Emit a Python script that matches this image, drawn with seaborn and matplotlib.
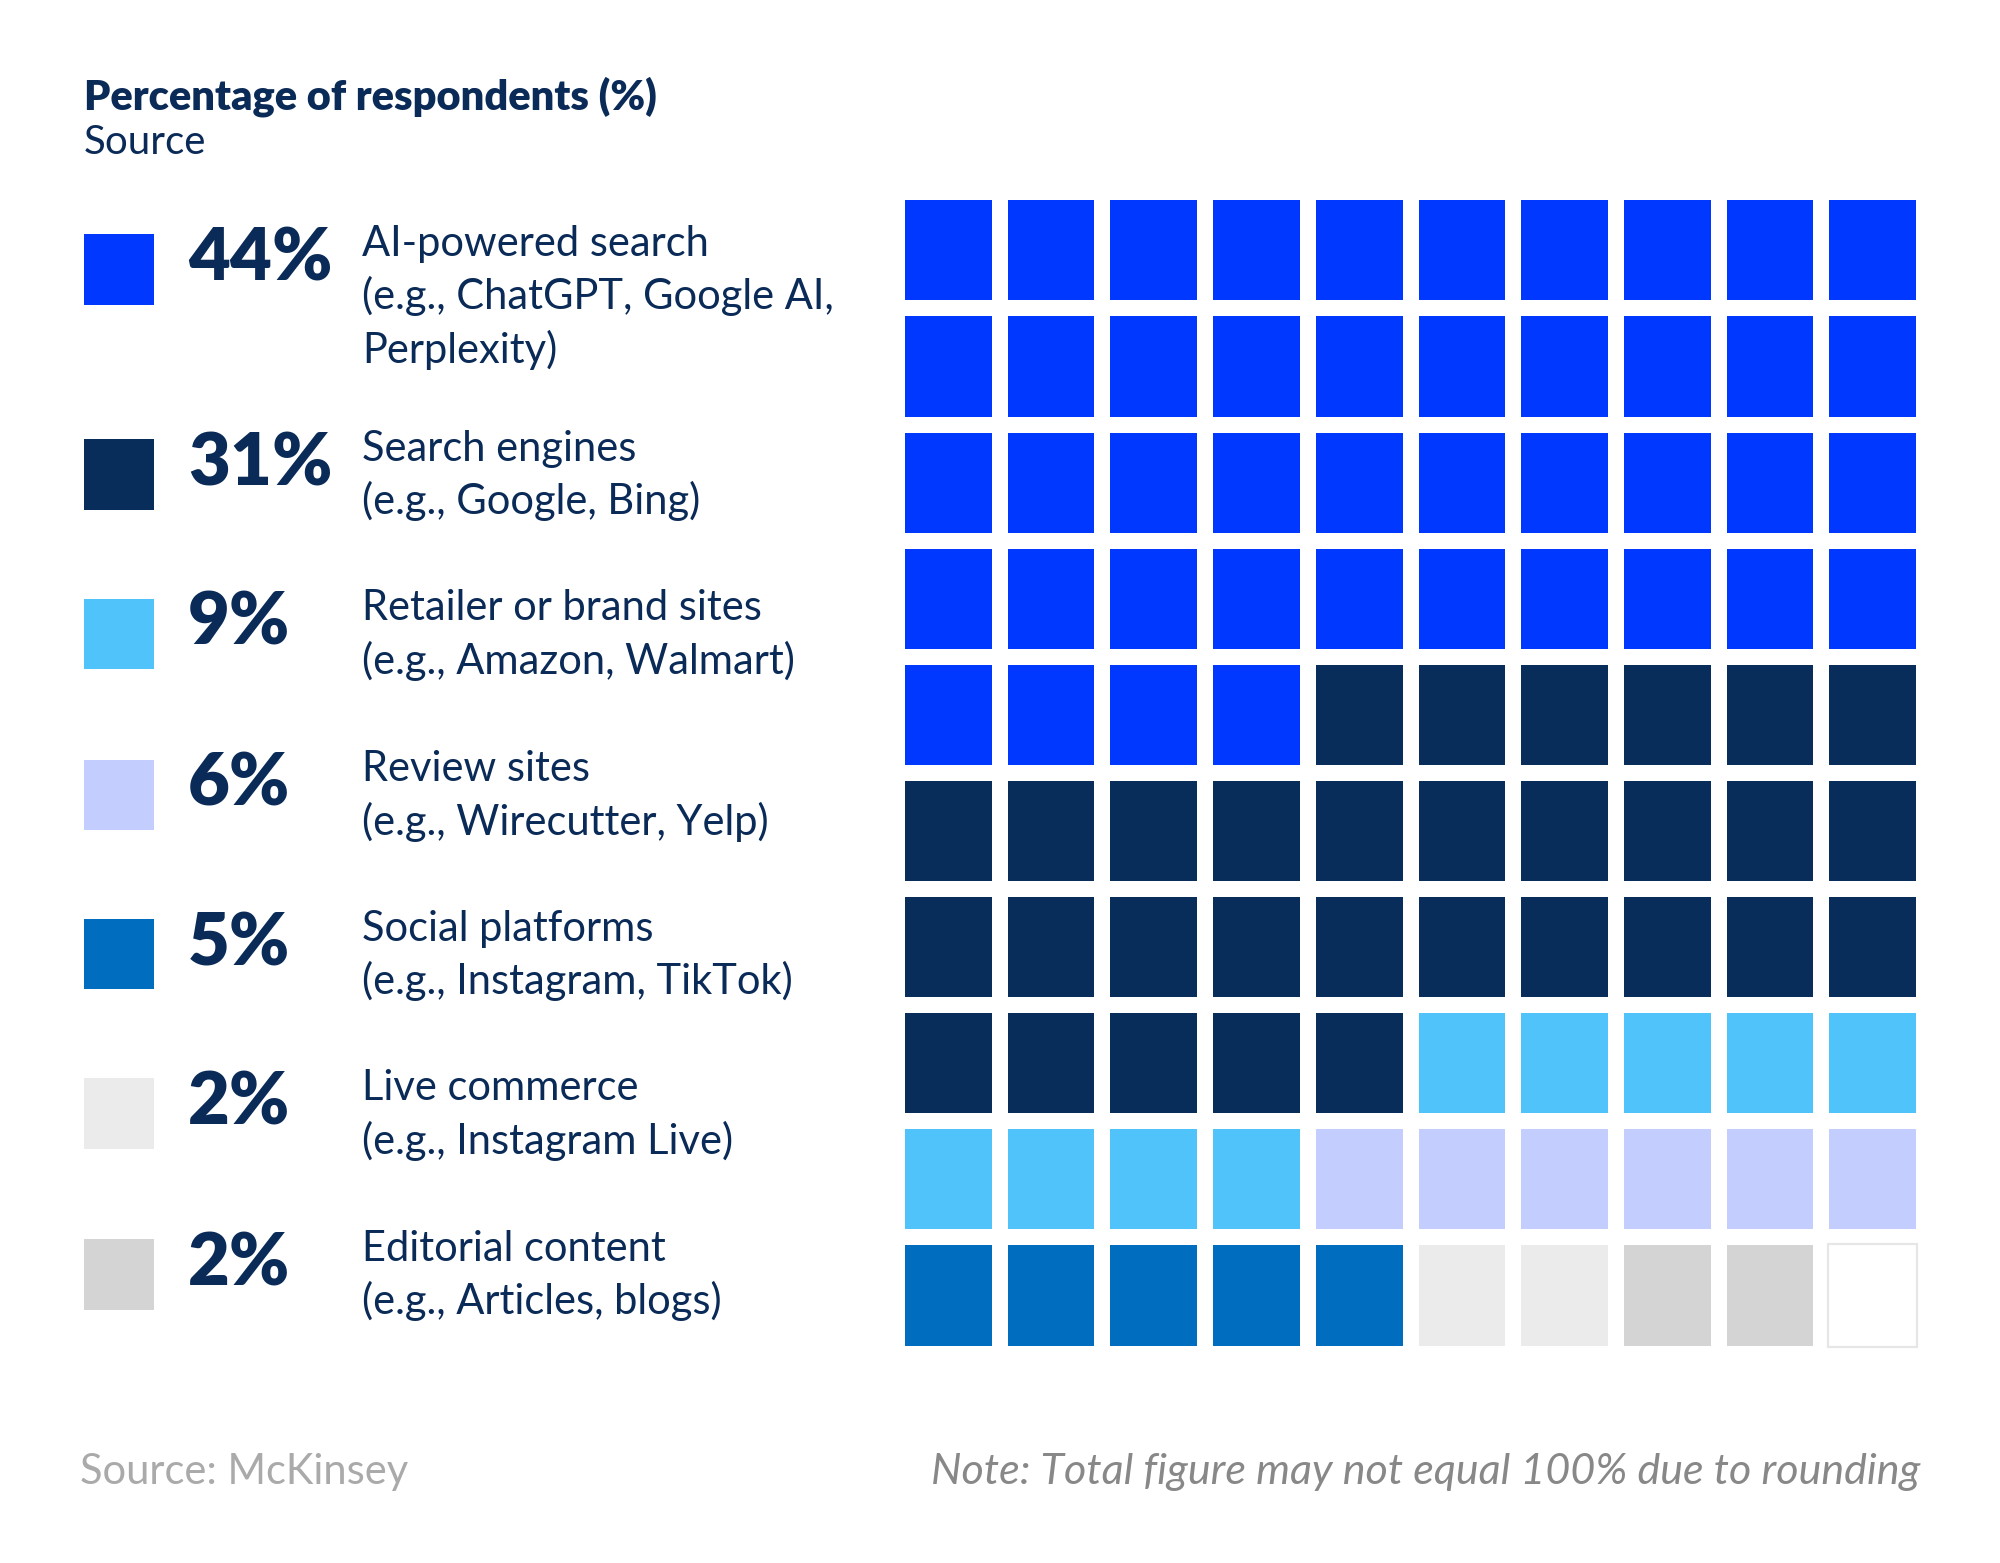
import numpy as np
import pandas as pd
import seaborn as sns
import matplotlib.pyplot as plt
from matplotlib.colors import ListedColormap
from matplotlib.patches import Rectangle

categories = ["AI-powered search", "Search engines", "Retailer or brand sites", "Review sites",
              "Social platforms", "Live commerce", "Editorial content"]
examples = ["(e.g., ChatGPT, Google AI,\nPerplexity)", "(e.g., Google, Bing)", "(e.g., Amazon, Walmart)",
            "(e.g., Wirecutter, Yelp)", "(e.g., Instagram, TikTok)", "(e.g., Instagram Live)",
            "(e.g., Articles, blogs)"]
values = [44, 31, 9, 6, 5, 2, 2]
colors = ["#0038FF", "#082D5A", "#4FC3FA", "#C3CEFF", "#006DBF", "#EBEBEB", "#D4D4D4"]

sns.set_theme(style="white")
plt.rcParams['font.family'] = ['Lato', 'DejaVu Sans']

cells = []
for i, v in enumerate(values):
    cells += [i] * v
cells += [len(values)] * (100 - len(cells))
grid = pd.DataFrame(np.array(cells).reshape(10, 10))

fig = plt.figure(figsize=(10, 7.815), dpi=200)
ax = fig.add_axes([0.4485, 0.134, 0.5135, 0.743])
sns.heatmap(grid, cmap=ListedColormap(colors + ["#FFFFFF"]), vmin=-0.5, vmax=len(values) + 0.5,
            cbar=False, linewidths=5.2, linecolor="white", square=False, ax=ax,
            xticklabels=False, yticklabels=False)
for k, c in enumerate(cells):
    if c == len(values):
        r, col = divmod(k, 10)
        ax.add_patch(Rectangle((col + 0.07, r + 0.06), 0.86, 0.88, fill=False,
                               edgecolor="#E6E6E6", lw=0.8))

navy = "#0A2A57"
fig.text(0.042, 0.938, "Percentage of respondents (%)", fontsize=15, fontweight="heavy",
         color=navy, va="center")
fig.text(0.042, 0.909, "Source", fontsize=14.5, color=navy, va="center")

ys = [0.828, 0.697, 0.595, 0.492, 0.390, 0.288, 0.185]
for y, cat, ex, v, c in zip(ys, categories, examples, values, colors):
    fig.patches.append(Rectangle((0.042, y - 0.023), 0.035, 0.045, transform=fig.transFigure,
                                 facecolor=c, edgecolor="none", figure=fig))
    fig.text(0.094, y + 0.006, f"{v}%", fontsize=26, fontweight="heavy", color=navy, va="center")
    fig.text(0.181, y + 0.028, cat + "\n" + ex, fontsize=15, color=navy, va="top", linespacing=1.4)

fig.text(0.040, 0.058, "Source: McKinsey", fontsize=15, color="#AAAAAA", va="center")
fig.text(0.960, 0.058, "Note: Total figure may not equal 100% due to rounding", fontsize=15.5,
         color="#888888", style="italic", ha="right", va="center")

fig.savefig("out.png", dpi=200, facecolor="white")
